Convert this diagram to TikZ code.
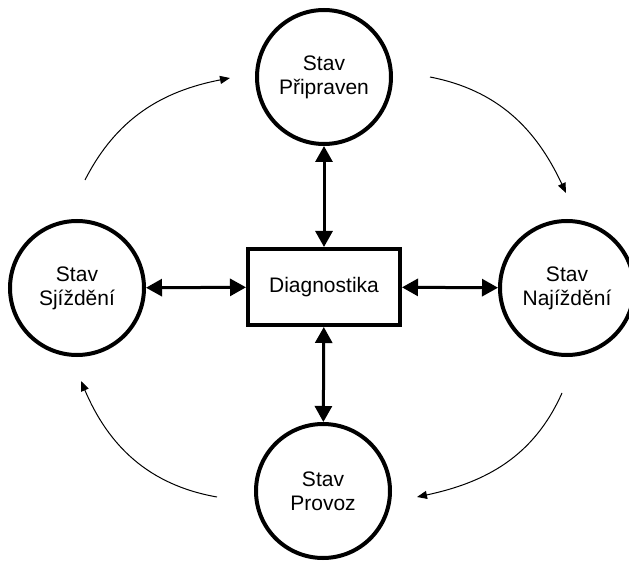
\documentclass[tikz,border=0pt]{standalone}
\usepackage{fontspec}
\setmainfont{Liberation Sans}
\usepackage{tikz}
\usetikzlibrary{shapes,arrows.meta,positioning,calc}

\begin{document}
\begin{tikzpicture}[x=1pt, y=-1pt,
    state/.style={circle, draw, line width=4pt, minimum size=134pt, inner sep=0pt, align=center, font=\fontsize{21}{24}\selectfont},
    diagbox/.style={rectangle, draw, line width=4pt, minimum width=152pt, minimum height=76pt, font=\fontsize{21}{24}\selectfont},
    link/.style={line width=3pt, {Triangle[length=16pt,width=17pt]}-{Triangle[length=16pt,width=17pt]}},
    cycle/.style={line width=1pt, -{Triangle[length=10pt,width=8pt]}}]
    \useasboundingbox (0,0) rectangle (629,561);

    \node[diagbox] (diag) at (324,287) {Diagnostika};
    \node[state] (ready) at (324,77) {Stav\\Připraven};
    \node[state] (down) at (77,288) {Stav\\Sjíždění};
    \node[state] (up) at (567,288) {Stav\\Najíždění};
    \node[state] (run) at (323,491) {Stav\\Provoz};

    \draw[link] (diag) -- (ready);
    \draw[link] (diag) -- (down);
    \draw[link] (diag) -- (up);
    \draw[link] (diag) -- (run);

    % cycle of states
    \coordinate (c1a) at (85,180);  \coordinate (c1b) at (230,78);
    \coordinate (c2a) at (430,77);  \coordinate (c2b) at (566,193);
    \coordinate (c3a) at (562,393); \coordinate (c3b) at (417,497);
    \coordinate (c4a) at (217,497); \coordinate (c4b) at (81,381);
    \draw[cycle] (c1a) to[out=63, in=191] (c1b);
    \draw[cycle] (c2a) to[out=-11, in=115] (c2b);
    \draw[cycle] (c3a) to[out=246, in=12] (c3b);
    \draw[cycle] (c4a) to[out=170, in=293] (c4b);
\end{tikzpicture}
\end{document}
